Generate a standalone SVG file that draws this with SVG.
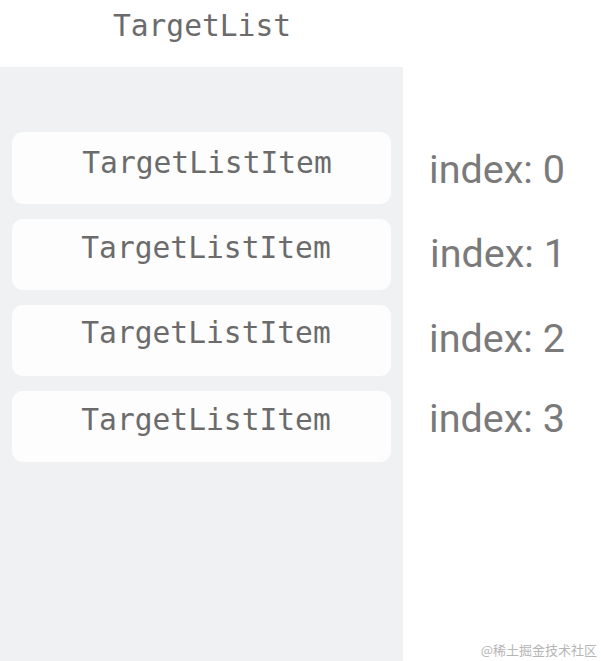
<svg xmlns="http://www.w3.org/2000/svg" width="601" height="661" viewBox="0 0 601 661">
<style>
.mono{font-family:"DejaVu Sans Mono","Liberation Mono",monospace;font-size:29.6px;fill:#6b6b6b;text-anchor:middle}
.idx{font-family:Roboto,"Liberation Sans",sans-serif;font-size:39.5px;fill:#7a7a7a;text-anchor:middle}
.item{fill:#fdfdfd}
</style>
<rect width="601" height="661" fill="#ffffff"/>
<g id="title"><text class="mono" x="202" y="36">TargetList</text></g>
<g id="list"><rect x="0" y="67" width="403" height="594" fill="#f0f1f3"/></g>
<g id="item0"><rect class="item" x="12" y="132" width="379" height="72" rx="11"/><text class="mono" x="207" y="173">TargetListItem</text></g>
<g id="item1"><rect class="item" x="12" y="219" width="379" height="71" rx="11"/><text class="mono" x="206" y="258">TargetListItem</text></g>
<g id="item2"><rect class="item" x="12" y="305" width="379" height="71" rx="11"/><text class="mono" x="206" y="343">TargetListItem</text></g>
<g id="item3"><rect class="item" x="12" y="391" width="379" height="71" rx="11"/><text class="mono" x="206" y="430">TargetListItem</text></g>
<g id="index0"><text class="idx" x="497" y="183">index: 0</text></g>
<g id="index1"><text class="idx" x="498" y="267">index: 1</text></g>
<g id="index2"><text class="idx" x="497" y="352">index: 2</text></g>
<g id="index3"><text class="idx" x="497" y="432">index: 3</text></g>
<g id="connectors"></g>
<text x="597" y="655" text-anchor="end" font-family="'Noto Sans CJK SC',sans-serif" font-size="13" fill="#b5b5b5">@稀土掘金技术社区</text>
</svg>
